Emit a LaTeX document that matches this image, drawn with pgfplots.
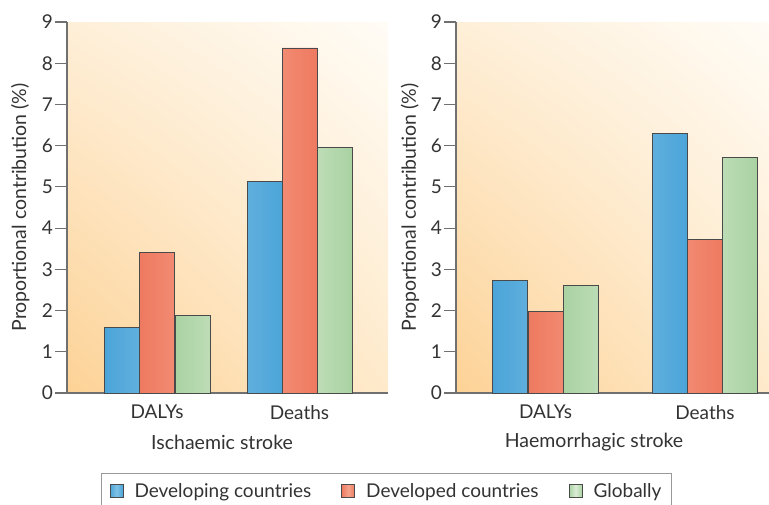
\documentclass[border=0pt]{standalone}
\usepackage{pgfplots}
\pgfplotsset{compat=1.18}
\usetikzlibrary{shadings}
\usepackage{fontspec}
\setmainfont{Lato}
\definecolor{txt}{HTML}{333333}
\definecolor{axgray}{HTML}{707070}
\definecolor{bgLL}{HTML}{FDD296}
\definecolor{bgUL}{HTML}{FEEFD8}
\definecolor{bgLR}{HTML}{FEEACB}
\definecolor{bgUR}{HTML}{FFFCF6}
\definecolor{blueA}{HTML}{4BA4D8}
\definecolor{blueB}{HTML}{80C2E6}
\definecolor{redA}{HTML}{EE7A60}
\definecolor{redB}{HTML}{F6A48E}
\definecolor{greenA}{HTML}{A9D2A2}
\definecolor{greenB}{HTML}{DCEDD6}
\definecolor{edge}{HTML}{4A4A4A}
\pgfplotsset{
  stroke/.style={
    scale only axis, anchor=origin,
    height=371pt, ymin=0, ymax=9, ytick={0,...,9},
    enlargelimits=false,
    axis lines=left,
    axis line style={-, draw=axgray, line width=1.1pt},
    ytick style={draw=axgray, line width=1.1pt},
    xtick style={draw=none},
    major tick length=12pt,
    tick align=outside,
    /pgf/number format/assume math mode=true,
    tick label style={font=\fontsize{19}{22}\selectfont, text=txt},
    yticklabel style={inner xsep=2pt},
    xticklabel style={inner ysep=2pt, yshift=2pt},
    label style={font=\fontsize{19.5}{22}\selectfont, text=txt},
    ylabel={Proportional contribution (\%)},
    axis background/.style={shading=bilinear interpolation, lower left=bgLL, upper left=bgUL, lower right=bgLR, upper right=bgUR},
    ybar, bar width=35, bar shift=0pt,
    legend image code/.code={\draw[#1] (0pt,-6.5pt) rectangle (13pt,6.5pt);},
  },
  bblue/.style={draw=edge, line width=0.9pt, left color=blueA, right color=blueA, middle color=blueB},
  bred/.style={draw=edge, line width=0.9pt, left color=redA, right color=redA, middle color=redB},
  bgreen/.style={draw=edge, line width=0.9pt, left color=greenA, right color=greenA, middle color=greenB},
}
\begin{document}
\begin{tikzpicture}[x=1pt,y=1pt]
\begin{axis}[stroke, at={(67pt,111pt)}, width=321pt, xmin=0, xmax=321,
  xtick={90,232.5}, xticklabels={DALYs,Deaths},
  xlabel={Ischaemic stroke},
  xlabel style={at={(axis description cs:0.483,-0.132)}, anchor=center},
  ylabel style={at={(axis description cs:-0.146,0.5)}, anchor=center},
  legend columns=3,
  legend style={at={(axis description cs:0.106,-0.2156)}, anchor=north west,
    draw=gray!80, line width=1.2pt, fill=white, inner xsep=8pt, inner ysep=8pt,
    font=\fontsize{19}{22}\selectfont, text=txt,
    /tikz/every odd column/.append style={column sep=9pt},
    /tikz/every even column/.append style={column sep=28pt}},
]
\addplot[bblue] coordinates {(54.5,1.58) (197.5,5.12)};
\addplot[bred] coordinates {(90,3.42) (232.5,8.37)};
\addplot[bgreen] coordinates {(125.5,1.87) (267.5,5.95)};
\legend{Developing countries, Developed countries, Globally}
\end{axis}
\begin{axis}[stroke, at={(456pt,111pt)}, width=313pt, xmin=0, xmax=313,
  xtick={89.5,249}, xticklabels={DALYs,Deaths},
  xlabel={Haemorrhagic stroke},
  xlabel style={at={(axis description cs:0.441,-0.132)}, anchor=center},
  ylabel style={at={(axis description cs:-0.147,0.5)}, anchor=center},
]
\addplot[bblue] coordinates {(54,2.73) (214,6.30)};
\addplot[bred] coordinates {(89.5,1.98) (249,3.72)};
\addplot[bgreen] coordinates {(124.5,2.60) (284,5.72)};
\end{axis}
\pgfresetboundingbox
\useasboundingbox (0,0) rectangle (769,504);
\end{tikzpicture}
\end{document}
